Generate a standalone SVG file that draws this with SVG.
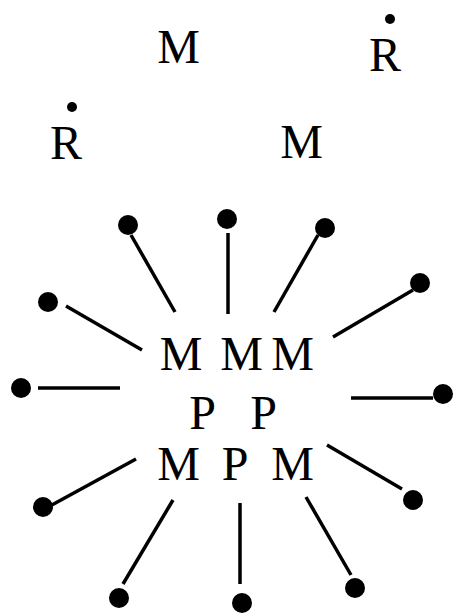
<svg xmlns="http://www.w3.org/2000/svg" width="453" height="614" viewBox="0 0 453 614">
<style>
text{font-family:"Liberation Serif","Times New Roman",serif;font-size:48px;fill:#000;text-anchor:middle}
.ln{stroke:#000;stroke-width:3.5;fill:none}
.dot{fill:#000}
</style>
<rect width="453" height="614" fill="#fff"/>
<g id="m-top"><text x="178.5" y="63">M</text></g>
<g id="r-top"><text x="385" y="71">R</text><circle class="dot" cx="390" cy="19" r="5"/></g>
<g id="m-second"><text x="301.5" y="158">M</text></g>
<g id="r-left"><text x="66" y="159">R</text><circle class="dot" cx="72" cy="107" r="5"/></g>
<g id="cluster">
<text x="181" y="370">M</text>
<text x="241.5" y="370">M</text>
<text x="292.5" y="370">M</text>
<text x="202.5" y="429">P</text>
<text x="263.5" y="429">P</text>
<text x="178.5" y="480">M</text>
<text x="235" y="480">P</text>
<text x="292.5" y="480">M</text>
</g>
<g id="connectors">
<line class="ln" x1="131" y1="235" x2="175" y2="312"/><circle class="dot" cx="128" cy="225" r="10"/>
<line class="ln" x1="228" y1="233" x2="228" y2="314"/><circle class="dot" cx="227" cy="219" r="10"/>
<line class="ln" x1="318" y1="235" x2="274" y2="312"/><circle class="dot" cx="325" cy="228" r="10"/>
<line class="ln" x1="413" y1="290" x2="333" y2="337"/><circle class="dot" cx="420" cy="283" r="10"/>
<line class="ln" x1="66" y1="306" x2="142" y2="350"/><circle class="dot" cx="48" cy="302" r="10"/>
<line class="ln" x1="38" y1="388" x2="120" y2="388"/><circle class="dot" cx="21" cy="388" r="10"/>
<line class="ln" x1="351" y1="398" x2="433" y2="398"/><circle class="dot" cx="443" cy="394" r="10"/>
<line class="ln" x1="50" y1="506" x2="136" y2="459"/><circle class="dot" cx="43" cy="507" r="10"/>
<line class="ln" x1="123" y1="584" x2="173" y2="500"/><circle class="dot" cx="119" cy="598" r="10"/>
<line class="ln" x1="240" y1="503" x2="240" y2="584"/><circle class="dot" cx="242" cy="603" r="10"/>
<line class="ln" x1="306" y1="497" x2="351" y2="575"/><circle class="dot" cx="355" cy="588" r="10"/>
<line class="ln" x1="327" y1="445" x2="402" y2="489"/><circle class="dot" cx="413" cy="500" r="10"/>
</g>
</svg>
